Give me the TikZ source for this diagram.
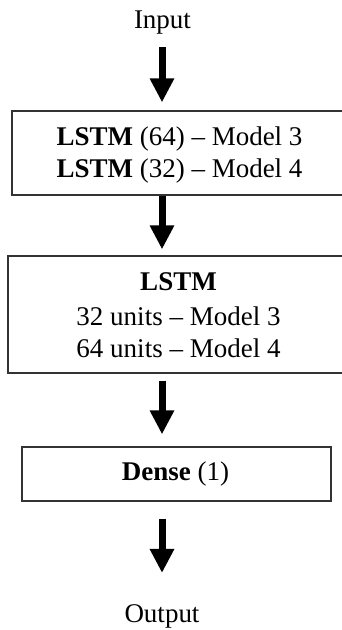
\documentclass[tikz,border=0pt]{standalone}
\usepackage{fontspec}
\setmainfont{Liberation Serif}
\usetikzlibrary{arrows.meta}
\begin{document}
\begin{tikzpicture}[x=1pt,y=-1pt,
  lbl/.style={anchor=base,inner sep=0pt,font=\fontsize{27}{31}\selectfont},
  boxnode/.style={draw=black!80,line width=1.3pt,rectangle,inner sep=0pt},
  flow/.style={line width=7pt,-{Triangle[width=23pt,length=24pt]}}]
\path[use as bounding box, fill=white] (0,0) rectangle (342,630);
\clip (0,0) rectangle (342,630);
% boxes
\node[boxnode,minimum width=334pt,minimum height=84pt] (b1) at (179,153) {};
\node[boxnode,minimum width=342pt,minimum height=117pt] (b2) at (179,314.5) {};
\node[boxnode,minimum width=309pt,minimum height=54pt] (b3) at (176.5,474) {};
% texts
\node[lbl] (in) at (162.5,28) {Input};
\node[lbl] (t11) at (179.5,145) {\textbf{LSTM} (64) -- Model 3};
\node[lbl] (t12) at (179.5,177) {\textbf{LSTM} (32) -- Model 4};
\node[lbl] (t21) at (178.5,290) {\textbf{LSTM}};
\node[lbl] (t22) at (178.5,325) {32 units -- Model 3};
\node[lbl] (t23) at (178.5,357) {64 units -- Model 4};
\node[lbl] (t31) at (175.5,480) {\textbf{Dense} (1)};
\node[lbl] (out) at (162,622) {Output};
% arrows
\coordinate (ax) at (162,0);
\draw[flow,shorten <=13pt,shorten >=8pt] (ax |- in.south) -- (ax |- b1.north);
\draw[flow,shorten >=6pt] (ax |- b1.south) -- (ax |- b2.north);
\draw[flow,shorten <=7pt,shorten >=12pt] (ax |- b2.south) -- (ax |- b3.north);
\draw[flow,shorten <=17pt,shorten >=31pt] (ax |- b3.south) -- (ax |- out.north);
\end{tikzpicture}
\end{document}
